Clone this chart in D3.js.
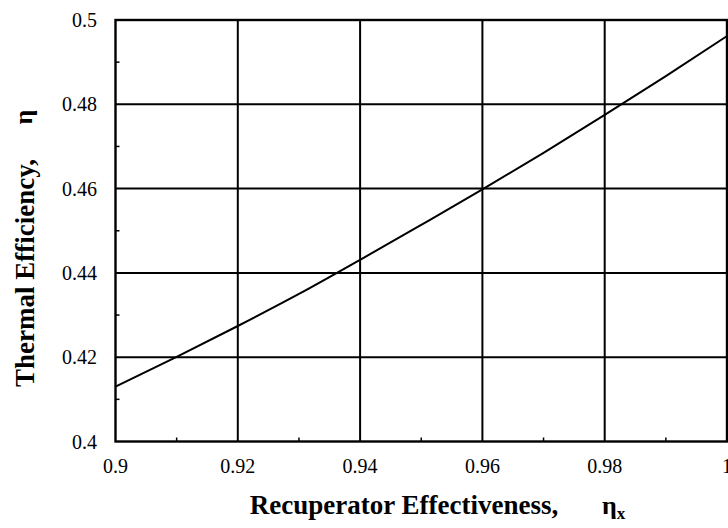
<!DOCTYPE html>
<html>
<head>
<meta charset="utf-8">
<script src="https://cdn.jsdelivr.net/npm/d3@7"></script>
<style>
body { margin: 0; background: #fff; }
svg text { font-family: "Liberation Serif", "Times New Roman", serif; fill: #000; }
</style>
</head>
<body>
<script>
//data
var effectiveness = [0.9, 0.91, 0.92, 0.93, 0.94, 0.95, 0.96, 0.97, 0.98, 0.99, 1.0];
var efficiency = [0.4130, 0.4201, 0.4274, 0.4350, 0.4431, 0.4514, 0.4598, 0.4685, 0.4775, 0.4867, 0.4962];
var xTicks = [0.9, 0.92, 0.94, 0.96, 0.98, 1];
var yTicks = [0.4, 0.42, 0.44, 0.46, 0.48, 0.5];
var xMinor = [0.91, 0.93, 0.95, 0.97, 0.99];
var yMinor = [0.41, 0.43, 0.45, 0.47, 0.49];

(function(){

var width = 728, height = 528;
var plotLeft = 115.5, plotRight = 727, plotTop = 20, plotBottom = 441.5;

var svg = d3.select("body").append("svg")
    .attr("width", width)
    .attr("height", height);

var x = d3.scaleLinear().domain([0.9, 1]).range([plotLeft, plotRight]);
var y = d3.scaleLinear().domain([0.4, 0.5]).range([plotBottom, plotTop]);

//grid lines
svg.append("g").selectAll("line")
    .data(xTicks.slice(1, -1))
    .enter().append("line")
    .attr("x1", function(d){ return x(d); })
    .attr("x2", function(d){ return x(d); })
    .attr("y1", plotTop).attr("y2", plotBottom)
    .attr("stroke", "#000").attr("stroke-width", 2);

svg.append("g").selectAll("line")
    .data(yTicks.slice(1, -1))
    .enter().append("line")
    .attr("y1", function(d){ return y(d); })
    .attr("y2", function(d){ return y(d); })
    .attr("x1", plotLeft).attr("x2", plotRight)
    .attr("stroke", "#000").attr("stroke-width", 2);

//minor ticks pointing inward
svg.append("g").selectAll("line")
    .data(xMinor)
    .enter().append("line")
    .attr("x1", function(d){ return x(d); })
    .attr("x2", function(d){ return x(d); })
    .attr("y1", plotBottom).attr("y2", plotBottom - 4)
    .attr("stroke", "#000").attr("stroke-width", 1.5);

svg.append("g").selectAll("line")
    .data(yMinor)
    .enter().append("line")
    .attr("y1", function(d){ return y(d); })
    .attr("y2", function(d){ return y(d); })
    .attr("x1", plotLeft).attr("x2", plotLeft + 4)
    .attr("stroke", "#000").attr("stroke-width", 1.5);

//frame
svg.append("rect")
    .attr("x", plotLeft).attr("y", plotTop)
    .attr("width", plotRight - plotLeft).attr("height", plotBottom - plotTop)
    .attr("fill", "none")
    .attr("stroke", "#000").attr("stroke-width", 2.4);

//curve
var line = d3.line()
    .x(function(d, i){ return x(effectiveness[i]); })
    .y(function(d){ return y(d); })
    .curve(d3.curveMonotoneX);

svg.append("path")
    .datum(efficiency)
    .attr("d", line)
    .attr("fill", "none")
    .attr("stroke", "#000")
    .attr("stroke-width", 2);

//tick labels
svg.append("g").selectAll("text")
    .data(xTicks)
    .enter().append("text")
    .attr("x", function(d){ return x(d); })
    .attr("y", 473)
    .attr("text-anchor", "middle")
    .style("font-size", "20px")
    .text(function(d){ return d3.format("")(d); });

svg.append("g").selectAll("text")
    .data(yTicks)
    .enter().append("text")
    .attr("x", 97)
    .attr("y", function(d){ return y(d) + 7; })
    .attr("text-anchor", "end")
    .style("font-size", "20px")
    .text(function(d){ return d3.format("")(d); });

//axis titles
svg.append("text")
    .attr("x", 404)
    .attr("y", 514)
    .attr("text-anchor", "middle")
    .style("font-size", "27px")
    .style("font-weight", "bold")
    .text("Recuperator Effectiveness,");

var ex = svg.append("text")
    .attr("x", 602)
    .attr("y", 514)
    .style("font-size", "26px")
    .style("font-weight", "bold")
    .text("η");
ex.append("tspan")
    .attr("dy", 5)
    .style("font-size", "17px")
    .text("x");

svg.append("text")
    .attr("transform", "translate(34,273) rotate(-90)")
    .attr("text-anchor", "middle")
    .style("font-size", "27px")
    .style("font-weight", "bold")
    .text("Thermal Efficiency,");

svg.append("text")
    .attr("transform", "translate(32,117) rotate(-90)")
    .attr("text-anchor", "middle")
    .style("font-size", "26px")
    .style("font-weight", "bold")
    .text("η");

})();
</script>
</body>
</html>
